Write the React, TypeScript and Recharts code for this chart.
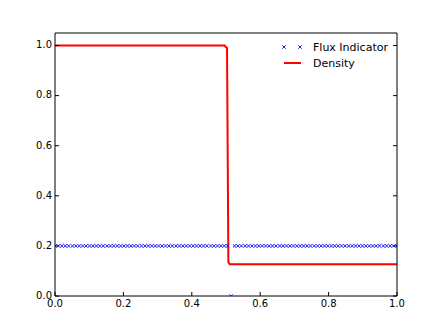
import { ComposedChart, Legend, Line, Scatter, XAxis, YAxis } from "recharts";

// flux indicator sampled on 100 points
const fluxX = [
  0.0, 0.01, 0.02, 0.03, 0.04, 0.051, 0.061, 0.071, 0.081, 0.091,
  0.101, 0.111, 0.121, 0.131, 0.141, 0.152, 0.162, 0.172, 0.182, 0.192,
  0.202, 0.212, 0.222, 0.232, 0.242, 0.253, 0.263, 0.273, 0.283, 0.293,
  0.303, 0.313, 0.323, 0.333, 0.343, 0.354, 0.364, 0.374, 0.384, 0.394,
  0.404, 0.414, 0.424, 0.434, 0.444, 0.455, 0.465, 0.475, 0.485, 0.495,
  0.505, 0.515, 0.525, 0.535, 0.545, 0.556, 0.566, 0.576, 0.586, 0.596,
  0.606, 0.616, 0.626, 0.636, 0.646, 0.657, 0.667, 0.677, 0.687, 0.697,
  0.707, 0.717, 0.727, 0.737, 0.747, 0.758, 0.768, 0.778, 0.788, 0.798,
  0.808, 0.818, 0.828, 0.838, 0.848, 0.859, 0.869, 0.879, 0.889, 0.899,
  0.909, 0.919, 0.929, 0.939, 0.949, 0.96, 0.97, 0.98, 0.99, 1.0,
];
const fluxY = [
  0.2, 0.2, 0.2, 0.2, 0.2, 0.2, 0.2, 0.2, 0.2, 0.2,
  0.2, 0.2, 0.2, 0.2, 0.2, 0.2, 0.2, 0.2, 0.2, 0.2,
  0.2, 0.2, 0.2, 0.2, 0.2, 0.2, 0.2, 0.2, 0.2, 0.2,
  0.2, 0.2, 0.2, 0.2, 0.2, 0.2, 0.2, 0.2, 0.2, 0.2,
  0.2, 0.2, 0.2, 0.2, 0.2, 0.2, 0.2, 0.2, 0.2, 0.2,
  0.2, 0.0, 0.2, 0.2, 0.2, 0.2, 0.2, 0.2, 0.2, 0.2,
  0.2, 0.2, 0.2, 0.2, 0.2, 0.2, 0.2, 0.2, 0.2, 0.2,
  0.2, 0.2, 0.2, 0.2, 0.2, 0.2, 0.2, 0.2, 0.2, 0.2,
  0.2, 0.2, 0.2, 0.2, 0.2, 0.2, 0.2, 0.2, 0.2, 0.2,
  0.2, 0.2, 0.2, 0.2, 0.2, 0.2, 0.2, 0.2, 0.2, 0.2,
];

const densityX = [0.0, 0.496, 0.499, 0.503, 0.507, 0.511, 1.0];
const densityY = [1.0, 1.0, 0.995, 0.99, 0.135, 0.127, 0.127];

const ticks = [0, 0.2, 0.4, 0.6, 0.8, 1.0];

const flux = fluxX.map((x, i) => ({ x, y: fluxY[i] }));
const density = densityX.map((x, i) => ({ x, y: densityY[i] }));

const FONT = "DejaVu Sans, sans-serif";

function XMark({ cx, cy }: any) {
  const s = 1.7;
  return (
    <path
      d={`M${cx - s},${cy - s}L${cx + s},${cy + s}M${cx - s},${cy + s}L${cx + s},${cy - s}`}
      stroke="#0000ff"
      strokeWidth={0.9}
      fill="none"
    />
  );
}

function BottomTick({ x, y, payload }: any) {
  return (
    <g>
      <line x1={x} x2={x} y1={y} y2={y - 4} stroke="#000" />
      <text x={x} y={y + 11} textAnchor="middle" fontSize={10} fontFamily={FONT} fill="#000">
        {payload.value.toFixed(1)}
      </text>
    </g>
  );
}

function TopTick({ x, y }: any) {
  return <line x1={x} x2={x} y1={y} y2={y + 4} stroke="#000" />;
}

function LeftTick({ x, y, payload }: any) {
  return (
    <g>
      <line x1={x} x2={x + 4} y1={y} y2={y} stroke="#000" />
      <text x={x - 3} y={y + 2.8} textAnchor="end" fontSize={10} fontFamily={FONT} fill="#000">
        {payload.value.toFixed(1)}
      </text>
    </g>
  );
}

function RightTick({ x, y }: any) {
  return <line x1={x} x2={x - 4} y1={y} y2={y} stroke="#000" />;
}

function LegendBox() {
  const row = { display: "flex", alignItems: "center", height: 16 } as const;
  return (
    <div style={{ fontFamily: FONT, fontSize: 11, color: "#000" }}>
      <div style={row}>
        <svg width={35} height={16}>
          <XMark cx={6} cy={8} />
          <XMark cx={22} cy={8} />
        </svg>
        <span>Flux Indicator</span>
      </div>
      <div style={row}>
        <svg width={35} height={16}>
          <line x1={6} x2={23} y1={8} y2={8} stroke="#ff0000" strokeWidth={2} />
        </svg>
        <span>Density</span>
      </div>
    </div>
  );
}

export default function App() {
  return (
    <div style={{ position: "absolute", left: 0, top: 0, background: "#fff" }}>
      <ComposedChart width={442} height={331} margin={{ top: 32, right: 44, bottom: 0, left: 0 }}>
        <XAxis
          xAxisId="main"
          type="number"
          dataKey="x"
          domain={[0, 1]}
          ticks={ticks}
          interval={0}
          height={35}
          tickSize={0}
          tickMargin={0}
          tickLine={false}
          axisLine={{ stroke: "#000" }}
          tick={<BottomTick />}
          allowDataOverflow
        />
        <XAxis
          xAxisId="top"
          orientation="top"
          type="number"
          domain={[0, 1]}
          ticks={ticks}
          interval={0}
          height={1}
          tickSize={0}
          tickMargin={0}
          tickLine={false}
          axisLine={{ stroke: "#000" }}
          tick={<TopTick />}
          allowDataOverflow
        />
        <YAxis
          yAxisId="main"
          type="number"
          dataKey="y"
          domain={[0, 1.05]}
          ticks={ticks}
          interval={0}
          width={55}
          tickSize={0}
          tickMargin={0}
          tickLine={false}
          axisLine={{ stroke: "#000" }}
          tick={<LeftTick />}
          allowDataOverflow
        />
        <YAxis
          yAxisId="right"
          orientation="right"
          type="number"
          domain={[0, 1.05]}
          ticks={ticks}
          interval={0}
          width={1}
          tickSize={0}
          tickMargin={0}
          tickLine={false}
          axisLine={{ stroke: "#000" }}
          tick={<RightTick />}
          allowDataOverflow
        />
        <Scatter
          name="Flux Indicator"
          data={flux}
          xAxisId="main"
          yAxisId="main"
          dataKey="y"
          shape={<XMark />}
          isAnimationActive={false}
        />
        <Line
          name="Density"
          data={density}
          xAxisId="main"
          yAxisId="main"
          dataKey="y"
          type="linear"
          stroke="#ff0000"
          strokeWidth={2}
          dot={false}
          activeDot={false}
          isAnimationActive={false}
        />
        <Legend
          layout="vertical"
          align="center"
          verticalAlign="middle"
          content={<LegendBox />}
          wrapperStyle={{ position: "absolute", left: 278, top: 39, width: "auto" }}
        />
      </ComposedChart>
    </div>
  );
}
